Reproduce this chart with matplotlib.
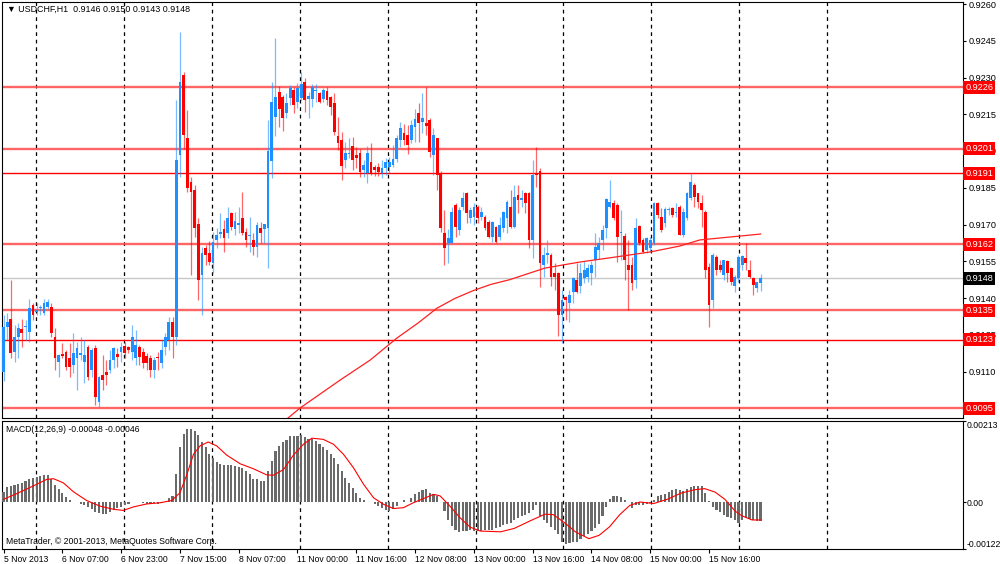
import matplotlib
matplotlib.use("Agg")
import matplotlib.pyplot as plt
import numpy as np

plt.rcParams['font.family'] = ['Liberation Sans', 'DejaVu Sans']

# ---------------- data (prices in pips: price * 10000) ----------------
open_p = [
    9110.0, 9128.3, 9131.3, 9118.1, 9124.2, 9127.2, 9128.1, 9126.2, 9137.1, 9134.4,
    9135.8, 9133.7, 9136.4, 9136.4, 9124.2, 9114.0, 9117.1, 9118.1, 9115.4, 9112.6,
    9115.4, 9116.7, 9114.0, 9120.1, 9110.6, 9119.4, 9097.7, 9108.6, 9109.9, 9110.6,
    9114.7, 9117.1, 9118.1, 9120.4, 9119.8, 9118.1, 9115.4, 9120.1, 9118.1, 9116.3,
    9115.4, 9110.6, 9115.8, 9113.3, 9120.1, 9122.8, 9130.3, 9124.2, 9198.4, 9231.0,
    9205.2, 9187.5, 9184.1, 9170.0, 9149.4, 9160.3, 9158.2, 9154.2, 9163.7, 9166.0,
    9168.2, 9166.4, 9174.6, 9168.2, 9169.8, 9172.5, 9167.1, 9165.4, 9163.7, 9161.0,
    9168.4, 9168.2, 9168.4, 9196.0, 9214.0, 9224.0, 9222.0, 9215.4, 9221.5, 9224.9,
    9220.1, 9221.8, 9228.0, 9221.2, 9221.1, 9224.5, 9223.8, 9221.1, 9224.5, 9222.2,
    9219.5, 9206.1, 9204.5, 9196.3, 9198.8, 9202.0, 9198.4, 9199.0, 9192.2, 9190.9,
    9195.6, 9193.3, 9193.3, 9190.9, 9193.0, 9193.6, 9194.3, 9196.6, 9204.5, 9207.5,
    9206.5, 9204.5, 9210.0, 9215.4, 9212.0, 9211.6, 9212.6, 9198.4, 9205.2, 9190.9,
    9166.4, 9162.3, 9162.3, 9178.0, 9167.8, 9177.3, 9182.7, 9172.5, 9173.2, 9177.3,
    9173.2, 9173.2, 9171.2, 9165.0, 9169.1, 9165.0, 9168.5, 9172.5, 9177.3, 9169.1,
    9182.0, 9180.0, 9182.7, 9182.7, 9163.7, 9190.9, 9192.0, 9153.5, 9157.6, 9157.6,
    9150.1, 9150.1, 9133.1, 9140.6, 9137.9, 9142.6, 9147.4, 9144.7, 9148.0, 9148.7,
    9150.1, 9155.5, 9159.6, 9163.7, 9168.4, 9177.3, 9178.6, 9178.0, 9166.6, 9165.3,
    9153.5, 9153.5, 9147.4, 9169.4, 9163.7, 9159.6, 9160.3, 9162.3, 9178.6, 9173.2,
    9170.5, 9175.9, 9176.6, 9174.6, 9177.3, 9165.7, 9172.5, 9180.7, 9186.1, 9182.7,
    9178.6, 9175.2, 9152.8, 9139.2, 9156.9, 9153.5, 9149.4, 9154.9, 9152.1, 9144.7,
    9148.0, 9153.5, 9156.2, 9151.5, 9148.0, 9143.9, 9146.0]

high_p = [
    9133.0, 9133.7, 9147.3, 9129.0, 9129.6, 9131.3, 9131.0, 9139.4, 9137.8, 9137.8,
    9137.0, 9139.4, 9139.4, 9137.8, 9127.6, 9117.0, 9121.5, 9118.8, 9121.5, 9125.6,
    9122.1, 9124.2, 9122.8, 9120.8, 9119.4, 9120.8, 9108.0, 9116.7, 9114.7, 9118.8,
    9120.1, 9119.4, 9122.1, 9122.1, 9120.4, 9129.0, 9126.9, 9121.0, 9119.4, 9117.4,
    9116.7, 9116.0, 9118.1, 9122.8, 9125.6, 9132.4, 9132.4, 9220.8, 9248.7, 9232.3,
    9216.7, 9189.5, 9186.1, 9172.5, 9161.0, 9161.6, 9163.3, 9167.1, 9168.4, 9174.6,
    9171.8, 9177.3, 9175.2, 9175.2, 9177.3, 9183.4, 9168.4, 9173.2, 9166.4, 9171.2,
    9171.2, 9170.3, 9212.6, 9228.3, 9246.0, 9226.5, 9223.0, 9223.5, 9226.9, 9226.2,
    9227.6, 9232.4, 9229.6, 9224.2, 9227.3, 9227.3, 9224.2, 9225.6, 9226.0, 9222.6,
    9223.5, 9214.0, 9207.9, 9203.8, 9205.2, 9205.9, 9201.8, 9201.0, 9196.3, 9202.0,
    9203.1, 9194.3, 9195.0, 9196.3, 9197.0, 9197.7, 9202.5, 9206.5, 9212.0, 9211.0,
    9210.6, 9212.7, 9217.0, 9219.4, 9223.5, 9226.3, 9213.3, 9209.3, 9205.5, 9192.0,
    9176.0, 9168.0, 9177.3, 9178.6, 9177.3, 9183.4, 9183.4, 9177.3, 9178.6, 9178.0,
    9177.3, 9173.9, 9171.8, 9171.4, 9169.5, 9173.2, 9175.5, 9180.0, 9184.1, 9186.1,
    9186.1, 9184.1, 9183.4, 9183.4, 9196.3, 9201.5, 9193.0, 9161.0, 9163.7, 9158.3,
    9154.2, 9150.5, 9143.3, 9141.0, 9143.3, 9148.7, 9154.2, 9154.2, 9154.9, 9154.0,
    9154.9, 9166.4, 9165.0, 9169.8, 9180.7, 9188.2, 9180.0, 9178.6, 9175.9, 9166.4,
    9163.7, 9156.9, 9172.5, 9169.8, 9164.4, 9165.0, 9165.0, 9179.3, 9179.3, 9176.6,
    9177.3, 9177.3, 9177.3, 9178.9, 9178.0, 9176.6, 9183.4, 9191.2, 9186.8, 9182.7,
    9182.0, 9175.9, 9154.2, 9158.2, 9157.6, 9155.5, 9155.5, 9155.5, 9152.8, 9149.4,
    9157.6, 9157.6, 9162.6, 9155.5, 9148.7, 9146.7, 9150.0]

low_p = [
    9106.0, 9122.8, 9115.4, 9114.0, 9115.4, 9120.1, 9122.8, 9122.1, 9131.0, 9133.0,
    9133.0, 9133.0, 9135.7, 9124.2, 9110.6, 9107.9, 9115.4, 9110.6, 9107.9, 9109.2,
    9102.4, 9114.7, 9105.2, 9106.5, 9107.9, 9096.3, 9095.6, 9102.4, 9104.5, 9109.2,
    9111.3, 9112.0, 9114.0, 9115.4, 9117.4, 9114.7, 9112.6, 9112.6, 9111.3, 9110.6,
    9107.9, 9107.2, 9110.6, 9111.3, 9116.7, 9118.8, 9115.4, 9121.0, 9189.5, 9201.0,
    9183.4, 9149.4, 9165.0, 9139.2, 9133.1, 9153.5, 9153.5, 9150.1, 9160.3, 9164.4,
    9158.9, 9164.4, 9167.8, 9165.7, 9166.4, 9165.7, 9161.0, 9158.9, 9157.6, 9156.9,
    9162.3, 9162.3, 9152.1, 9188.8, 9206.0, 9210.0, 9208.0, 9213.3, 9218.8, 9215.4,
    9217.4, 9220.8, 9216.0, 9213.3, 9218.1, 9220.1, 9219.4, 9220.1, 9218.8, 9214.7,
    9206.5, 9200.4, 9188.2, 9192.9, 9197.0, 9192.3, 9193.0, 9189.5, 9189.5, 9186.8,
    9190.2, 9189.8, 9189.8, 9188.9, 9190.2, 9190.9, 9193.6, 9195.6, 9201.8, 9202.5,
    9198.8, 9203.1, 9203.8, 9203.8, 9207.2, 9206.5, 9197.7, 9190.2, 9184.1, 9167.0,
    9153.5, 9154.2, 9162.3, 9165.0, 9165.7, 9176.0, 9170.5, 9170.5, 9170.0, 9170.5,
    9171.8, 9167.8, 9164.4, 9163.0, 9162.3, 9163.7, 9167.1, 9166.4, 9168.5, 9168.5,
    9174.6, 9177.3, 9174.6, 9160.3, 9156.2, 9185.4, 9144.5, 9148.7, 9154.2, 9144.7,
    9143.3, 9124.3, 9121.5, 9131.0, 9130.4, 9137.9, 9141.9, 9141.9, 9146.0, 9146.7,
    9145.3, 9148.7, 9156.0, 9159.6, 9164.4, 9176.6, 9171.8, 9154.8, 9155.5, 9147.4,
    9135.1, 9143.3, 9144.0, 9161.6, 9158.2, 9158.2, 9158.9, 9161.6, 9172.5, 9167.1,
    9169.1, 9173.9, 9173.2, 9173.2, 9165.7, 9165.0, 9171.8, 9180.0, 9177.3, 9176.6,
    9169.1, 9148.0, 9128.3, 9135.8, 9149.4, 9150.8, 9147.4, 9146.7, 9145.3, 9142.6,
    9146.7, 9151.5, 9151.5, 9148.0, 9141.2, 9142.6, 9143.0]

close_p = [
    9128.0, 9130.3, 9117.4, 9124.2, 9127.6, 9125.8, 9128.5, 9135.8, 9133.0, 9134.9,
    9136.4, 9137.8, 9138.5, 9125.6, 9115.4, 9116.7, 9116.3, 9112.0, 9112.0, 9117.4,
    9119.4, 9117.4, 9116.7, 9107.9, 9118.8, 9099.7, 9107.9, 9106.5, 9108.6, 9114.7,
    9119.4, 9116.0, 9120.1, 9117.7, 9118.8, 9124.2, 9120.8, 9116.0, 9113.3, 9113.3,
    9110.6, 9114.7, 9115.4, 9118.8, 9124.2, 9130.3, 9124.2, 9196.3, 9228.3, 9206.5,
    9184.8, 9183.4, 9168.4, 9147.4, 9158.2, 9157.6, 9154.8, 9163.0, 9165.7, 9166.8,
    9164.4, 9172.5, 9169.1, 9171.4, 9170.5, 9166.4, 9163.7, 9165.9, 9161.0, 9169.8,
    9166.4, 9170.1, 9200.0, 9220.1, 9222.0, 9217.0, 9213.5, 9219.4, 9225.6, 9218.8,
    9225.6, 9227.2, 9220.8, 9222.5, 9226.3, 9224.7, 9220.1, 9224.9, 9220.8, 9218.1,
    9207.9, 9203.1, 9193.9, 9199.0, 9199.1, 9196.3, 9197.0, 9191.6, 9194.3, 9199.0,
    9190.9, 9192.2, 9191.6, 9192.9, 9195.6, 9195.6, 9196.6, 9205.2, 9209.3, 9204.5,
    9202.5, 9210.6, 9212.9, 9211.3, 9213.3, 9210.2, 9199.7, 9206.5, 9190.2, 9168.5,
    9160.3, 9164.4, 9175.2, 9169.1, 9175.9, 9180.7, 9174.6, 9175.9, 9177.3, 9172.5,
    9175.2, 9168.5, 9165.0, 9171.2, 9163.0, 9169.8, 9175.2, 9179.3, 9169.1, 9181.4,
    9180.0, 9180.7, 9178.6, 9163.7, 9190.2, 9190.2, 9154.2, 9157.6, 9158.3, 9148.7,
    9148.7, 9133.1, 9139.2, 9139.2, 9141.3, 9148.1, 9142.6, 9150.1, 9151.5, 9152.1,
    9153.5, 9161.0, 9162.3, 9167.8, 9180.3, 9179.3, 9172.5, 9165.0, 9166.9, 9155.5,
    9151.5, 9146.0, 9168.4, 9162.3, 9158.9, 9164.4, 9163.7, 9178.6, 9173.9, 9167.8,
    9176.2, 9176.2, 9173.9, 9174.9, 9165.7, 9175.2, 9182.7, 9187.5, 9181.4, 9179.3,
    9175.9, 9151.5, 9137.2, 9157.6, 9151.5, 9151.5, 9155.5, 9150.1, 9146.7, 9148.7,
    9156.9, 9157.2, 9154.2, 9148.7, 9145.3, 9146.7, 9148.0]

# moving average line (bar index, pips)
ma_idx = [77.4, 80.7, 91.6, 99.8, 107.0, 113.0, 117.9, 122.8, 127.8, 132.5, 137.8,
          147.3, 156.9, 166.4, 176.0, 184.0, 189.5, 195.0, 206.0]
ma_val = [9091.0, 9095.1, 9106.5, 9114.7, 9123.6, 9130.0, 9135.8, 9139.8, 9143.0, 9145.5, 9147.5,
          9152.2, 9154.7, 9156.7, 9158.8, 9161.2, 9163.7, 9164.5, 9166.1]

# MACD main (histogram), units of 1e-5
macd_hist = [
    28, 40, 43, 46, 49, 52, 56, 60, 63, 66, 70, 71, 71, 60, 46, 34, 24, 14, 5, 2,
    0, -4, -7, -13, -18, -25, -28, -30, -30, -25, -20, -15, -11, -7, -4, 2, 2, 1, -2, -4,
    -4, -2, -3, -2, 2, 11, 16,
    74, 146, 180, 191, 193, 188, 177, 159, 144, 127, 117, 106, 101, 99, 98, 97, 96, 93, 89, 82,
    74, 62, 62, 57, 56, 82, 108, 135, 147, 157, 163, 173, 173, 173, 176, 171, 167, 166, 161, 154,
    146, 137, 126, 116, 101, 82, 65, 52, 38, 25, 11, 5, 2, 2, -4, -10, -15, -20, -23, -18,
    -10, 2, 5, 2, 11, 21, 28, 32, 34, 25, 23, 16, 2, -23, -47, -62, -71, -77, -76, -74,
    -73, -75, -75, -75,
    -73, -71, -71, -68, -64, -59, -56, -55, -47, -41, -35, -32, -27, -20, -8, -35, -46, -55, -64, -73,
    -83, -104, -108, -106, -104, -104, -95, -88, -83, -76, -66, -56, -36, -12, 10, 17, 17, 15, 6, 0,
    -15, -8, -8, -8, -5, -2, 6, 17, 19, 21, 27, 33, 35, 33, 30, 35, 39, 44, 44, 42,
    24, 3, -12, -19, -26, -32, -38, -41, -47, -53, -47, -41, -44, -46, -50, -48]

# MACD signal line points (bar index, units of 1e-5)
sig_idx = [0, 3.6, 8.1, 11.7, 13.6, 16.3, 19, 22.6, 26.3, 29.9, 32.6, 35.3, 39, 42.6, 45.8, 48,
           49.9, 51.7, 53.5, 55.7, 58, 60.7, 64.4, 68, 71.6, 73.4, 76.2, 78.9, 81.6, 83.9, 87,
           89.8, 92.5, 95.2, 98, 100.7, 103.4, 106.1, 108.8, 111.5, 114.3, 117, 118.8, 121.5,
           124.2, 127, 129.7, 135.3, 139, 143.6, 147.3, 149.6, 152.9, 155.6, 159.3, 162.1,
           164.9, 167.7, 170.4, 173.2, 176.9, 180.6, 184.3, 188, 190.8, 193.6, 196.3, 199.1,
           200.9, 203.7, 206]
sig_val = [8, 23, 43, 60, 62, 51, 28, 5, -10, -18, -21, -12, -4, -1, 5, 25,
           73, 126, 148, 158, 148, 124, 101, 88, 72, 71, 86, 124, 152, 168, 165,
           152, 126, 91, 47, 12, -5, -16, -14, -1, 10, 21, 17, -10,
           -40, -65, -75, -77, -68, -47, -31, -32, -55, -77, -95, -86,
           -64, -32, -8, 1, -3, 8, 24, 33, 36, 27, 8, -23,
           -35, -46, -46]

levels = [0.9226, 0.9201, 0.9191, 0.9162, 0.9135, 0.9123, 0.9095]
level_heavy = [True, True, False, True, True, False, True]
bid_price = 0.9148

price_ticks = [0.9260, 0.9245, 0.9230, 0.9215, 0.9200, 0.9185, 0.9170, 0.9155, 0.9140, 0.9125, 0.9110]
macd_ticks = [0.00213, 0.0, -0.00122]
macd_tick_labels = ['0.00213', '0.00', '-0.00122']

time_idx = [0, 16, 32, 48, 64, 80, 96, 112, 128, 144, 160, 176, 192]
time_labels = ['5 Nov 2013', '6 Nov 07:00', '6 Nov 23:00', '7 Nov 15:00', '8 Nov 07:00',
               '11 Nov 00:00', '11 Nov 16:00', '12 Nov 08:00', '13 Nov 00:00', '13 Nov 16:00',
               '14 Nov 08:00', '15 Nov 00:00', '15 Nov 16:00']

header = "\u25BC USDCHF,H1  0.9146 0.9150 0.9143 0.9148"
macd_header = "MACD(12,26,9) -0.00048 -0.00046"
copyright_txt = "MetaTrader, \u00A9 2001-2013, MetaQuotes Software Corp."

FS = 6.2
FS_R = 6.6

# ---------------- layout ----------------
W, H = 1000, 564
fig = plt.figure(figsize=(10, 5.64), dpi=100)
fig.patch.set_facecolor('white')

def px_rect(l, t, r, b):
    return [l / W, 1 - b / H, (r - l) / W, (b - t) / H]

ax = fig.add_axes(px_rect(2, 2, 963, 418))
ax2 = fig.add_axes(px_rect(2, 421, 963, 549))

BAR = 3.675      # px per bar
X0 = 3.5         # px of bar 0
xmin = (2 - X0) / BAR
xmax = (963 - X0) / BAR
for a in (ax, ax2):
    a.set_xlim(xmin, xmax)
    for s in a.spines.values():
        s.set_color('black')
        s.set_linewidth(0.8)

ax.set_ylim((9260 - (418 - 4) / 2.45) / 1e4, (9260 + 2 / 2.45) / 1e4)
ax2.set_ylim(-0.00122, 0.00213)

# vertical dashed grid
grid_idx = [8.85 + 23.92 * j for j in range(10)]
for g in grid_idx:
    for a in (ax, ax2):
        a.axvline(g, color='black', lw=0.9, ls=(0, (3, 3)), zorder=1)

# horizontal levels
for v, heavy in zip(levels, level_heavy):
    if heavy:
        ax.axhline(v, color='#ff4a4a', lw=1.7, alpha=0.85, zorder=2)
    else:
        ax.axhline(v, color='#ff0000', lw=1.0, zorder=2)
ax.axhline(bid_price, color='#c8c8c8', lw=1.0, zorder=2)

# candles
o = np.array(open_p) / 1e4
h = np.array(high_p) / 1e4
l = np.array(low_p) / 1e4
c = np.array(close_p) / 1e4
idx = np.arange(len(o))
bull = c >= o
cols = np.where(bull, '#1E90FF', '#FF0000')
ax.vlines(idx, l, h, colors=cols, lw=0.9, alpha=0.6, zorder=3)
body_h = np.maximum(np.abs(c - o), 0.000045)
body_b = np.minimum(o, c)
ax.bar(idx, body_h, bottom=body_b, width=0.75, color=cols, linewidth=0, zorder=4)

# moving average
ax.plot(np.array(ma_idx), np.array(ma_val) / 1e4, color='#ff2020', lw=0.9, zorder=5)

# right price axis
ax.yaxis.tick_right()
ax.set_yticks(price_ticks)
ax.set_yticklabels([f"{t:.4f}" for t in price_ticks])
ax.tick_params(axis='y', labelsize=FS_R, length=2.5, width=0.8, pad=1.2, colors='black')
ax.set_xticks([])

ytr = ax.get_yaxis_transform()
for v in levels:
    ax.text(1.0025, v, f"{v:.4f}", transform=ytr, ha='left', va='center', fontsize=FS_R,
            color='white', zorder=10, clip_on=False,
            bbox=dict(boxstyle='square,pad=0.22', fc='#ff0000', ec='none'))
ax.text(1.0025, bid_price, f"{bid_price:.4f}", transform=ytr, ha='left', va='center',
        fontsize=FS_R, color='white', zorder=10, clip_on=False,
        bbox=dict(boxstyle='square,pad=0.22', fc='black', ec='none'))

ax.text(0.005, 0.983, header, transform=ax.transAxes, ha='left', va='center',
        fontsize=6.4, color='black', zorder=11)

# MACD panel
ax2.bar(np.arange(len(macd_hist)), np.array(macd_hist) * 1e-5, width=0.58,
        color='#6a6a6a', linewidth=0, zorder=3)
ax2.plot(np.array(sig_idx), np.array(sig_val) * 1e-5, color='#ff0000', lw=0.8, zorder=4)
ax2.yaxis.tick_right()
ax2.set_yticks(macd_ticks)
ax2.set_yticklabels(macd_tick_labels)
ax2.tick_params(axis='y', labelsize=FS, length=2.0, width=0.8, pad=0.8, colors='black')
labs = ax2.get_yticklabels()
labs[0].set_va('top')
labs[2].set_va('bottom')

ax2.set_xticks(time_idx)
ax2.set_xticklabels(time_labels)
ax2.tick_params(axis='x', labelsize=FS, length=3, width=0.8, pad=1.0, direction='out')
for lb in ax2.get_xticklabels():
    lb.set_ha('left')

ax2.text(0.004, 0.93, macd_header, transform=ax2.transAxes, ha='left', va='center',
         fontsize=FS, color='black', zorder=11)
ax2.text(0.004, 0.062, copyright_txt, transform=ax2.transAxes, ha='left', va='center',
         fontsize=FS, color='black', zorder=11)

fig.savefig('out.png', dpi=100, facecolor='white')
